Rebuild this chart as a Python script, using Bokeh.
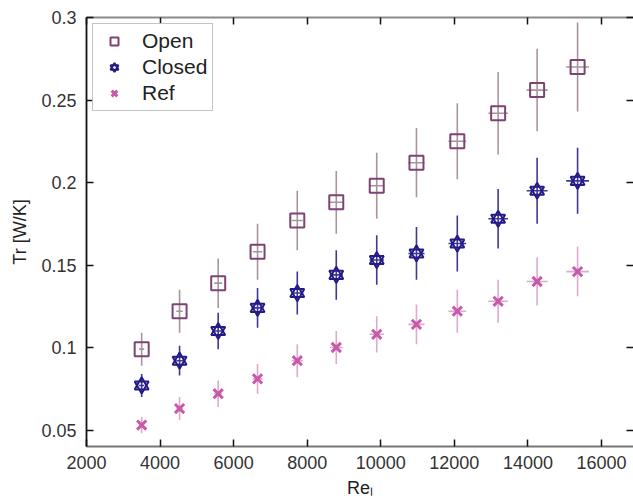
from bokeh.plotting import figure
from bokeh.models import (ColumnDataSource, Range1d, LinearAxis, FixedTicker,
                          CustomJSTickFormatter, Legend)
from bokeh.embed import file_html
from bokeh.resources import INLINE

# ---- data ----
re_l = [3500, 4530, 5580, 6650, 7730, 8790, 9890, 10970, 12080, 13190, 14250, 15350]
re_err = [70, 90, 110, 130, 150, 175, 195, 220, 240, 265, 285, 310]

open_tr = [0.099, 0.122, 0.139, 0.158, 0.177, 0.188, 0.198, 0.212, 0.225, 0.242, 0.256, 0.270]
open_err = [0.010, 0.013, 0.015, 0.017, 0.018, 0.019, 0.020, 0.021, 0.023, 0.025, 0.025, 0.027]

closed_tr = [0.077, 0.092, 0.110, 0.124, 0.133, 0.144, 0.153, 0.157, 0.163, 0.178, 0.195, 0.201]
closed_err = [0.007, 0.009, 0.011, 0.012, 0.013, 0.015, 0.015, 0.016, 0.017, 0.018, 0.020, 0.020]

ref_tr = [0.053, 0.063, 0.072, 0.081, 0.092, 0.100, 0.108, 0.114, 0.122, 0.128, 0.140, 0.146]
ref_err = [0.005, 0.007, 0.008, 0.009, 0.010, 0.010, 0.011, 0.012, 0.013, 0.013, 0.0145, 0.015]

x_ticks = [2000, 4000, 6000, 8000, 10000, 12000, 14000, 16000]
y_ticks = [0.05, 0.1, 0.15, 0.2, 0.25, 0.3]

FONT = "Liberation Sans"

p = figure(width=633, height=501, output_backend="svg", toolbar_location=None,
           x_range=Range1d(2000, 16870), y_range=Range1d(0.04, 0.3),
           min_border_left=86, min_border_right=0, min_border_top=17, min_border_bottom=55)
p.grid.visible = False
p.outline_line_color = None


def make_src(y, yerr):
    return ColumnDataSource(dict(
        x=re_l, y=y,
        ylo=[a - b for a, b in zip(y, yerr)], yhi=[a + b for a, b in zip(y, yerr)],
        xlo=[a - b for a, b in zip(re_l, re_err)], xhi=[a + b for a, b in zip(re_l, re_err)],
    ))


s_open = make_src(open_tr, open_err)
s_closed = make_src(closed_tr, closed_err)
s_ref = make_src(ref_tr, ref_err)

# error bars
for src, col in [(s_open, "#a8949f"), (s_closed, "#3f3890"), (s_ref, "#dfa9cf")]:
    p.segment(x0="x", y0="ylo", x1="x", y1="yhi", source=src, line_color=col, line_width=1.6)
    p.segment(x0="xlo", y0="y", x1="xhi", y1="y", source=src, line_color=col, line_width=1.6)

r_open = p.scatter("x", "y", source=s_open, marker="square", size=14,
                   line_color="#7d4372", line_width=2, fill_alpha=0)
r_c1 = p.scatter("x", "y", source=s_closed, marker="triangle", size=14,
                 line_color="#241a88", line_width=2, fill_alpha=0)
r_c2 = p.scatter("x", "y", source=s_closed, marker="inverted_triangle", size=14,
                 line_color="#241a88", line_width=2, fill_alpha=0)
r_ref = p.scatter("x", "y", source=s_ref, marker="x", size=13,
                  line_color="#c75aa8", line_width=3)

legend = Legend(items=[("Open", [r_open]), ("Closed", [r_c1, r_c2]), ("Ref", [r_ref])],
                location="top_left")
legend.label_text_font = FONT
legend.label_text_font_size = "21px"
legend.label_text_color = "#222222"
legend.label_height = 20
legend.glyph_height = 20
legend.glyph_width = 32
legend.spacing = 2
legend.padding = 5
legend.margin = 6
legend.label_standoff = 12
legend.border_line_color = "#8a8a8a"
legend.border_line_width = 1.5
legend.background_fill_color = "white"
p.add_layout(legend)

fmt = CustomJSTickFormatter(code="return tick.toString();")

# main axes
p.xaxis.ticker = FixedTicker(ticks=x_ticks)
p.yaxis.ticker = FixedTicker(ticks=y_ticks)
p.yaxis.formatter = fmt
p.xaxis.axis_label = "Reₗ"
p.yaxis.axis_label = "Tr [W/K]"
for ax in (p.xaxis[0], p.yaxis[0]):
    ax.major_tick_in = 7
    ax.major_tick_out = 0
    ax.minor_tick_line_color = None
    ax.major_tick_line_width = 1.5
    ax.major_tick_line_color = "#111111"
    ax.major_label_text_font = FONT
    ax.major_label_text_font_size = "18px"
    ax.major_label_text_color = "#333333"
    ax.axis_label_text_font = FONT
    ax.axis_label_text_font_size = "18px"
    ax.axis_label_text_font_style = "normal"
    ax.axis_label_text_color = "#222222"
    ax.major_label_standoff = 10
    ax.axis_label_standoff = 8
p.xaxis.major_label_standoff = 9
p.xaxis.axis_label_standoff = 6
p.yaxis.axis_line_color = "#111111"
p.yaxis.axis_line_width = 1.8
p.xaxis.axis_line_color = "#777777"
p.xaxis.axis_line_width = 1.8

# mirrored ticks on top and right
top = LinearAxis(ticker=FixedTicker(ticks=x_ticks),
                 formatter=CustomJSTickFormatter(code="return '';"))
right = LinearAxis(ticker=FixedTicker(ticks=y_ticks),
                   formatter=CustomJSTickFormatter(code="return '';"))
for ax in (top, right):
    ax.major_tick_in = 7
    ax.major_tick_out = 0
    ax.minor_tick_line_color = None
    ax.major_tick_line_width = 1.5
    ax.major_tick_line_color = "#111111"
    ax.major_label_text_font_size = "0px"
    ax.major_label_standoff = 0
top.axis_line_color = "#8a8a8a"
top.axis_line_width = 1.8
right.axis_line_color = None
p.add_layout(top, "above")
p.add_layout(right, "right")

open("out.html", "w").write(file_html(p, INLINE))
